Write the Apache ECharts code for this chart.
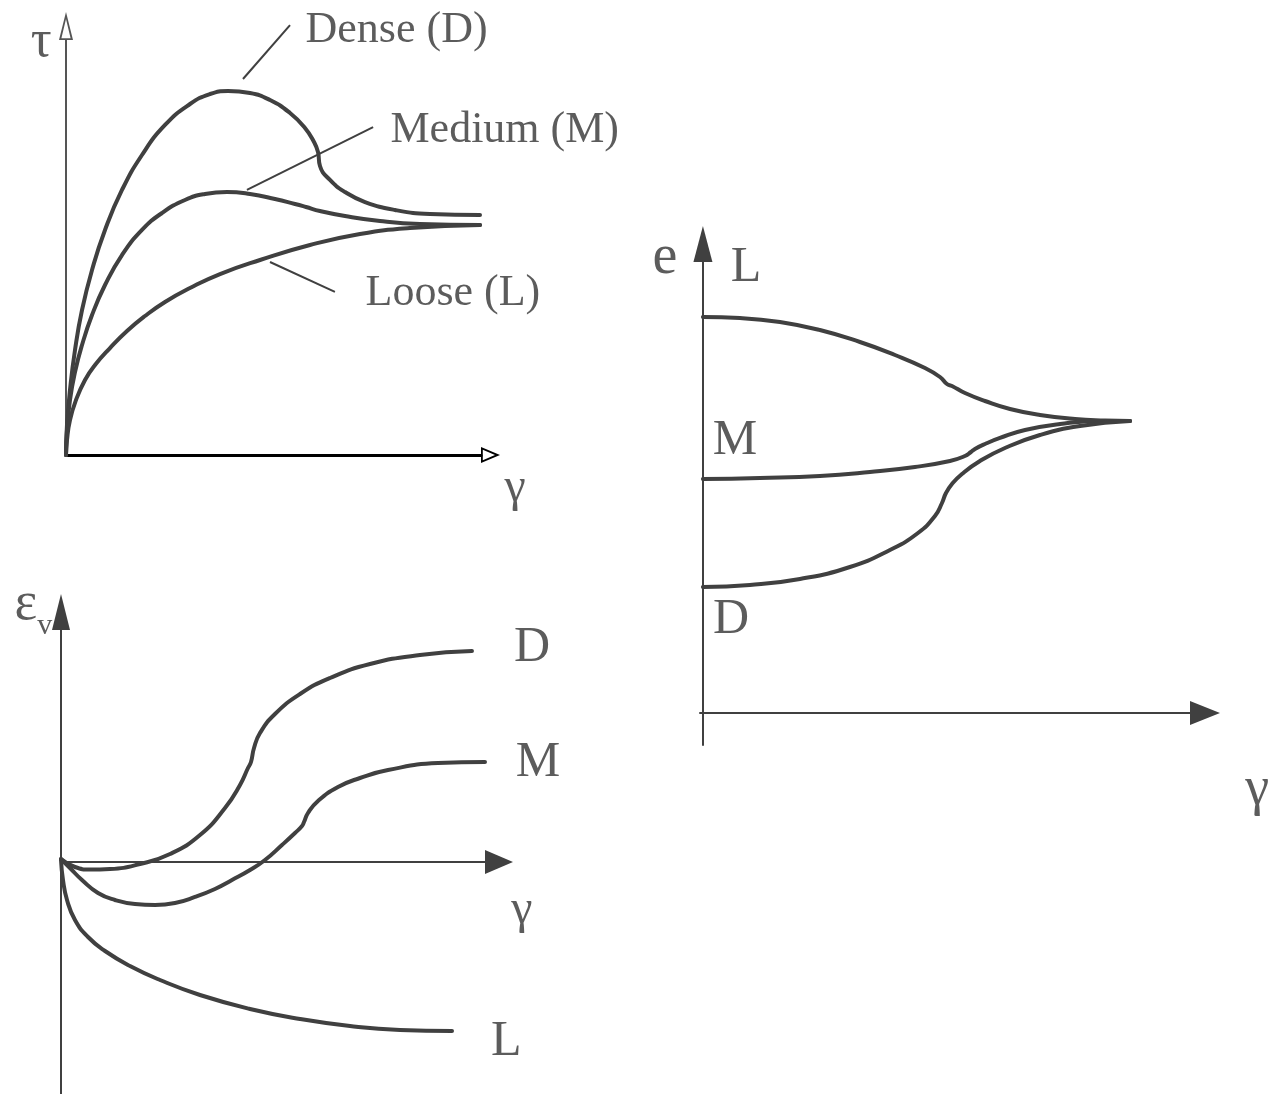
<!DOCTYPE html>
<html>
<head>
<meta charset="utf-8">
<title>Shear behaviour of loose, medium and dense sand</title>
<script src="https://cdn.jsdelivr.net/npm/echarts@6/dist/echarts.min.js"></script>
<style>
  html, body { margin: 0; padding: 0; background: #fff; }
  #chart { width: 1279px; height: 1094px; }
</style>
</head>
<body>
<div id="chart"></div>
<script>
// ---- shear stress τ vs shear strain γ ----
const tauDense = [[0,0],[0.24,7.23],[0.96,15.66],[2.17,25.3],[3.86,34.94],[6.27,44.58],[9.4,54.22],
  [13.49,63.86],[18.31,72.29],[23.86,79.52],[29.88,84.58],[34.7,86.99],[39.04,87.71],[44.34,87.23],
  [49.16,85.54],[53.98,82.41],[57.59,78.8],[59.76,75.42],[60.72,73.01],[61.2,69.64],[63.61,66.27],
  [67.23,63.37],[72.05,60.96],[79.28,59.04],[87.71,58.07],[99.76,57.83]];
const tauMedium = [[0,0],[0.24,6.02],[0.96,13.25],[2.17,20.0],[3.86,26.51],[6.27,33.73],[9.4,40.96],
  [13.49,48.19],[18.31,54.22],[23.13,58.31],[28.67,61.45],[33.49,62.89],[38.8,63.37],[44.34,62.89],
  [50.36,61.69],[55.18,60.48],[57.83,59.76],[61.2,58.8],[67.23,57.59],[75.66,56.39],[85.3,55.66],
  [99.76,55.42]];
const tauLoose = [[0,0],[0.24,3.61],[0.96,8.43],[2.41,13.25],[4.58,18.07],[6.99,21.69],[10.6,25.78],
  [14.7,29.88],[19.04,33.49],[23.86,36.87],[29.88,40.24],[37.11,43.61],[46.75,46.99],[58.8,50.6],
  [70.84,53.25],[82.89,54.7],[99.76,55.42]];
const tauLeaders = [
  [[42.65,90.6],[53.98,103.6]],
  [[43.6,63.9],[74.0,79.0]],
  [[49.16,46.5],[64.8,39.3]]
];
const tauTexts = [
  { name: 'Dense (D)', value: [57.6, 102.2] },
  { name: 'Medium (M)', value: [78.07, 78.3] },
  { name: 'Loose (L)', value: [72.05, 39.0] }
];
const tauAxisTitles = [
  { name: 'τ', value: [-6.0, 99.5], size: 52 },
  { name: 'γ', value: [108.2, -7.95], size: 48 }
];

// ---- volumetric strain εv vs γ ----
const evDense = [[0,0.71],[3.3,-1.18],[6.84,-1.77],[11.56,-1.65],[18.63,-0.47],[25.71,1.89],[32.78,6.37],
  [38.68,12.74],[42.22,18.16],[44.1,22.17],[44.81,23.58],[45.52,26.89],[46.93,30.42],[50.47,34.91],
  [56.37,39.62],[63.44,43.4],[72.88,46.7],[84.67,48.82],[96.93,49.76]];
const evMedium = [[0,0.71],[2.12,-1.42],[4.95,-4.25],[8.73,-7.31],[12.74,-8.96],[17.45,-9.91],
  [22.17,-10.14],[26.89,-9.67],[31.6,-8.25],[36.32,-6.37],[40.33,-4.25],[44.58,-1.89],[48.11,0.47],
  [52.12,4.01],[55.19,6.84],[56.84,8.49],[57.31,9.43],[58.25,11.56],[60.61,14.39],[65.33,17.69],
  [70.52,19.81],[77.12,21.7],[88.92,23.35],[100,23.58]];
const evLoose = [[0,0.47],[0.47,-4.25],[1.42,-8.96],[3.3,-13.68],[6.37,-17.69],[10.38,-20.99],
  [16.27,-24.53],[23.35,-27.83],[32.78,-31.37],[44.58,-34.67],[56.37,-37.03],[68.16,-38.68],
  [79.95,-39.62],[92.22,-39.86]];
const evTexts = [
  { name: 'D', value: [111.1, 50.5], size: 50 },
  { name: 'M', value: [112.5, 23.3], size: 50 },
  { name: 'L', value: [105.0, -42.5], size: 50 },
  { name: 'γ', value: [108.7, -11.3], size: 48 }
];
const evAxisTitle = [{ name: 'εv', value: [-6.5, 60.6] }];

// ---- void ratio e vs γ ----
const eLoose = [[0,87.8],[7.6,87.58],[15.81,86.7],[24.02,84.92],[32.24,82.26],[39.43,79.38],[45.59,76.5],
  [48.67,74.5],[50.1,72.95],[51.13,72.51],[53.8,70.95],[57.91,69.18],[63.04,67.41],[69.2,66.08],
  [76.39,65.19],[82.55,64.86],[87.68,64.75]];
const eMedium = [[0,51.88],[11.7,52.11],[24.02,52.55],[34.29,53.44],[43.53,54.55],[50.72,55.88],
  [53.8,56.98],[55.03,57.87],[55.85,58.54],[57.91,59.65],[60.99,60.98],[66.12,62.75],[73.31,64.08],
  [81.52,64.75],[87.68,64.75]];
const eDense = [[0,27.94],[9.65,28.38],[19.92,29.71],[30.18,32.37],[38.4,36.14],[44.15,39.91],
  [47.64,43.68],[49.08,46.56],[49.9,48.78],[51.13,50.78],[53.18,53.0],[56.88,55.88],[62.01,58.76],
  [69.2,61.64],[77.41,63.64],[87.68,64.75]];
const eTexts = [
  { name: 'e', value: [-7.8, 100.9], size: 56 },
  { name: 'L', value: [8.83, 98.7], size: 50 },
  { name: 'M', value: [6.57, 60.3], size: 50 },
  { name: 'D', value: [5.75, 20.6], size: 50 },
  { name: 'γ', value: [113.8, -17.1], size: 54 }
];

const INK = '#404040';
const TEXT = '#333333';
const SERIF = '"Liberation Serif", "Times New Roman", serif';
// open (hollow) arrow heads: outer triangle with an inner hole wound the other way
const HOLLOW_ARROW_X = 'path://M0,0 L8,19 L-8,19 Z M0,5 L-5.2,17.2 L5.2,17.2 Z';
const HOLLOW_ARROW_Y = 'path://M0,0 L7,28 L-7,28 Z M0,7 L-4.6,26.2 L4.6,26.2 Z';

function valueAxis(gridIndex, min, max, line) {
  return {
    type: 'value', gridIndex, min, max,
    axisLine: Object.assign({ show: true, onZero: true }, line),
    axisTick: { show: false }, axisLabel: { show: false }, splitLine: { show: false }
  };
}

function curve(data, xi, width) {
  return {
    type: 'line', xAxisIndex: xi, yAxisIndex: xi, data, smooth: 0.5,
    showSymbol: false, symbol: 'none', silent: true, animation: false,
    lineStyle: { color: INK, width: width || 4, cap: 'round', join: 'round' }
  };
}

// text placed at a data anchor; per-item size overrides the default
function texts(data, xi, size, pos) {
  return {
    type: 'scatter', xAxisIndex: xi, yAxisIndex: xi, clip: false, silent: true, animation: false,
    symbolSize: 1, itemStyle: { color: 'rgba(0,0,0,0)' },
    data: data.map(t => t.size ? { name: t.name, value: t.value, label: { fontSize: t.size } } : t),
    label: {
      show: true, position: pos || 'inside', distance: 0, formatter: '{b}',
      color: TEXT, fontFamily: SERIF, fontSize: size
    }
  };
}

const series = [
  curve(tauDense, 0), curve(tauMedium, 0), curve(tauLoose, 0),
  curve(evDense, 1), curve(evMedium, 1), curve(evLoose, 1),
  curve(eLoose, 2), curve(eMedium, 2), curve(eDense, 2)
];
tauLeaders.forEach(seg => {
  const s = curve(seg, 0, 2);
  s.smooth = false; s.clip = false; s.lineStyle.cap = 'butt';
  series.push(s);
});
series.push(texts(tauTexts, 0, 44, 'right'));
series.push(texts(tauAxisTitles, 0, 48));
series.push(texts(evTexts, 1, 50));
const evTitle = texts(evAxisTitle, 1, 52);
evTitle.label.formatter = '{e|ε}{v|v}';
evTitle.label.rich = {
  e: { fontFamily: SERIF, fontSize: 54, color: TEXT },
  v: { fontFamily: SERIF, fontSize: 30, color: TEXT, padding: [42, 0, 0, 0] }
};
series.push(evTitle);
series.push(texts(eTexts, 2, 50));

const option = {
  backgroundColor: '#ffffff',
  animation: false,
  grid: [
    { left: 66, top: 40, width: 415, height: 415 },
    { left: 61, top: 630, width: 424, height: 464 },
    { left: 700, top: 262, width: 490, height: 483 }
  ],
  xAxis: [
    valueAxis(0, 0, 100, { symbol: ['none', HOLLOW_ARROW_X], symbolSize: [16, 19], symbolOffset: [0, 9.5],
      lineStyle: { color: '#000', width: 3 } }),
    valueAxis(1, 0, 100, { symbol: ['none', 'triangle'], symbolSize: [24, 28], symbolOffset: [0, 14],
      lineStyle: { color: INK, width: 2 } }),
    valueAxis(2, -0.6, 100, { symbol: ['none', 'triangle'], symbolSize: [24, 30], symbolOffset: [0, 15],
      lineStyle: { color: INK, width: 2 } })
  ],
  yAxis: [
    valueAxis(0, 0, 100, { symbol: ['none', HOLLOW_ARROW_Y], symbolSize: [14, 28], symbolOffset: [0, 14],
      lineStyle: { color: '#555', width: 2 } }),
    valueAxis(1, -54.72, 54.72, { symbol: ['none', 'triangle'], symbolSize: [18, 36], symbolOffset: [0, 18],
      lineStyle: { color: INK, width: 2 } }),
    valueAxis(2, -7.1, 100, { symbol: ['none', 'triangle'], symbolSize: [19, 36], symbolOffset: [0, 18],
      lineStyle: { color: INK, width: 2 } })
  ],
  series
};

const chart = echarts.init(document.getElementById('chart'), null, { renderer: 'canvas' });
chart.setOption(option);
</script>
</body>
</html>
